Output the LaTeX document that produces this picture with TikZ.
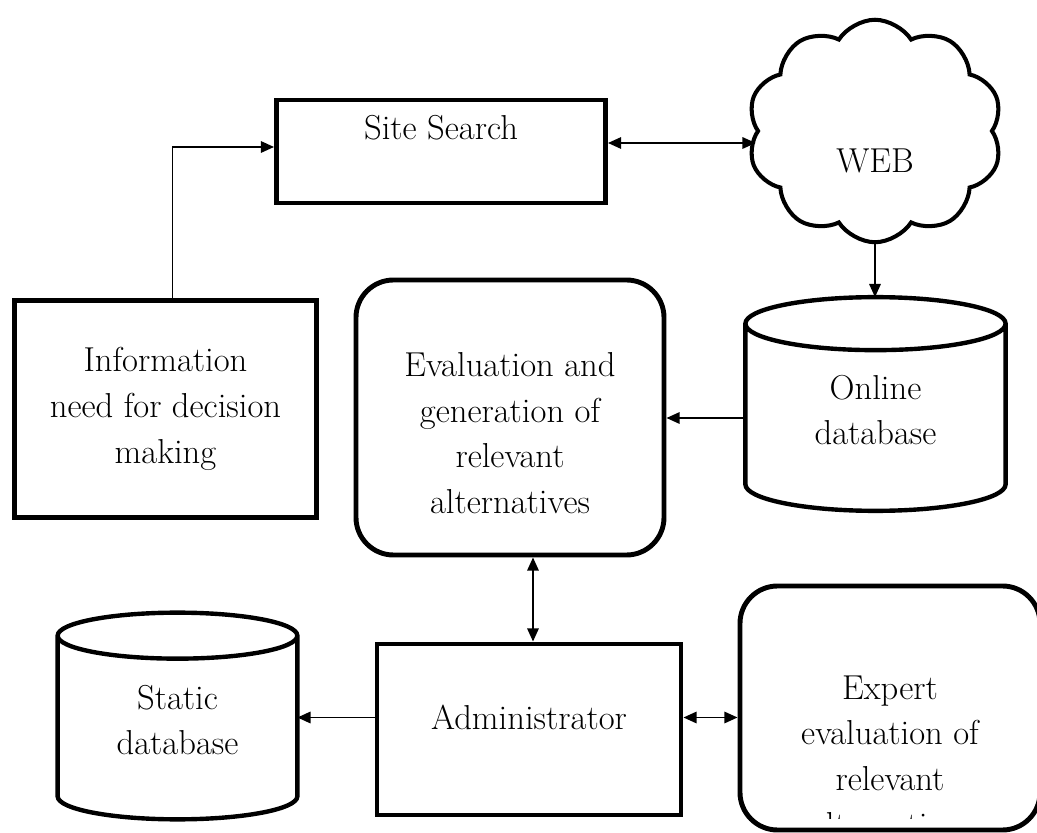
\documentclass[tikz,border=0pt]{standalone}
\usepackage{fontspec}
\usepackage{tikz}
\usetikzlibrary{arrows.meta, shapes.symbols, calc, positioning}

% cylindre dessine autour d'un noeud : #1 nom, #2 demi-hauteur de l'ellipse
\newcommand{\cylindre}[2]{%
  \draw[line width=2.5pt] let \p1=(#1.north west), \p2=(#1.south east),
      \n1={(\x2-\x1)/2} in
    (\x1,\y1-#2) -- (\x1,\y2+#2)
    arc[start angle=180, end angle=360, x radius=\n1, y radius=#2]
    -- (\x2,\y1-#2)
    (\x1+\n1,\y1-#2) ellipse [x radius=\n1, y radius=#2];}

\begin{document}
\begin{tikzpicture}[>={Triangle[length=7.5pt,width=6.5pt]},
  every node/.style={font=\fontsize{19.7pt}{26pt}\selectfont, align=center},
  boite/.style={draw, line width=2.8pt, inner sep=0pt},
  arrondi/.style={boite, rounded corners=0.75cm},
  bdd/.style={inner sep=0pt},
  fleche/.style={line width=1.1pt}]

  \useasboundingbox (0,0) rectangle (20.74,-16.66);
  \clip (0,0) rectangle (20.74,-16.66);

  % Recherche sur site
  \node[boite, minimum width=6.58cm, minimum height=2.06cm,
        label={[yshift=0.47cm]center:Site Search}] (search) at (8.82,-3.03) {};

  % Nuage WEB
  \node[cloud, draw, line width=2.3pt, cloud puffs=10, cloud puff arc=115,
        minimum width=5.1cm, minimum height=4.45cm,
        label={[yshift=-0.6cm]center:WEB}] (web) at (17.5,-2.62) {};

  % Besoin d'information
  \node[boite, minimum width=6.04cm, minimum height=4.34cm] (info) at (3.31,-8.18)
    {Information\\need for decision\\making};

  % Evaluation des alternatives
  \node[arrondi, minimum width=6.16cm, minimum height=5.5cm,
        label={[yshift=-0.31cm]center:Evaluation and\\generation of\\relevant\\alternatives}]
        (eval) at (10.2,-8.35) {};

  % Base en ligne
  \node[bdd, minimum width=5.19cm, minimum height=4.26cm,
        label={[yshift=-0.12cm]center:Online\\database}] (online) at (17.51,-8.08) {};
  \cylindre{online}{0.53cm}

  % Administrateur
  \node[boite, minimum width=6.08cm, minimum height=3.42cm,
        label={[yshift=0.24cm]center:Administrator}] (admin) at (10.58,-14.59) {};

  % Base statique
  \node[bdd, minimum width=4.78cm, minimum height=4.12cm,
        label={[yshift=-0.08cm]center:Static\\database}] (static) at (3.55,-14.32) {};
  \cylindre{static}{0.46cm}

  % Avis d'expert (coupe en bas)
  \node[arrondi, minimum width=6.0cm, minimum height=4.88cm] (expert) at (17.8,-14.16) {};
  \begin{scope}
    \clip (0,0) rectangle (20.74,-16.36);
    \node (experttxt) at ([yshift=-0.96cm]expert.center)
      {Expert\\evaluation of\\relevant\\alternatives};
  \end{scope}

  % Liaisons
  \draw[fleche, ->] ([xshift=0.14cm]info.north) |- ([yshift=0.09cm]search.west);
  \draw[fleche, <->] ([yshift=0.17cm]search.east) -- ([yshift=0.17cm]search.east -| web.west);
  \draw[fleche, ->] (web.south) -- (web.south |- online.north);
  \draw[fleche, ->] ([yshift=-0.28cm]online.west) -- ([yshift=-0.28cm]online.west -| eval.east);
  \draw[fleche, <->] ([xshift=0.08cm]admin.north) -- ([xshift=0.08cm]admin.north |- eval.south);
  \draw[fleche, ->] ([yshift=0.24cm]admin.west) -- ([yshift=0.24cm]admin.west -| static.east);
  \draw[fleche, <->] ([yshift=0.24cm]admin.east) -- ([yshift=0.24cm]admin.east -| expert.west);

\end{tikzpicture}
\end{document}
